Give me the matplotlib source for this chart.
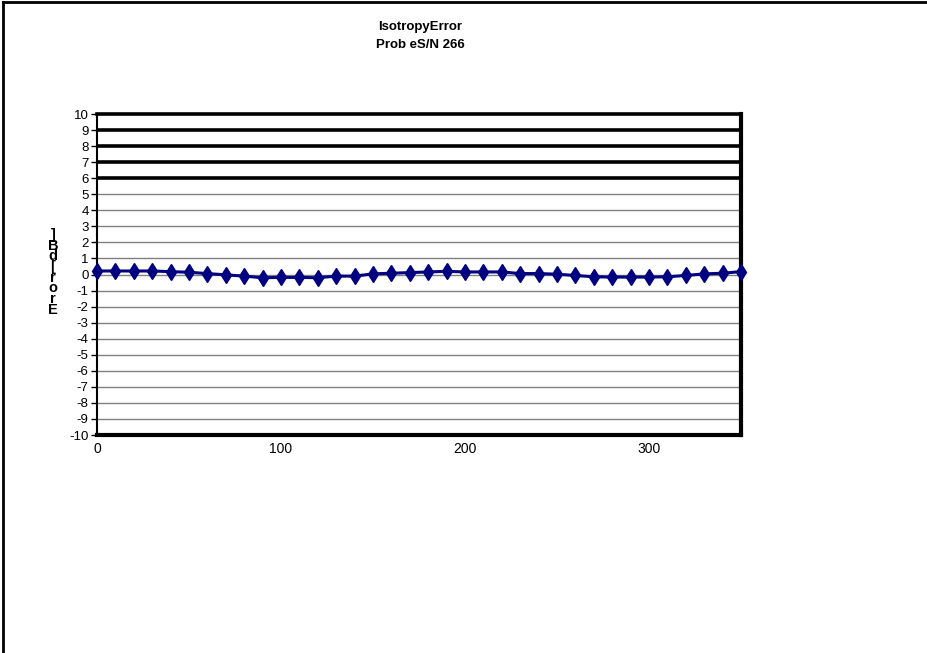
import matplotlib.pyplot as plt
from matplotlib.lines import Line2D
import numpy as np

plt.rcParams['font.family'] = ['Liberation Sans', 'DejaVu Sans']

# probe angle (deg) and isotropy error
angle = [0, 10, 20, 30, 40, 50, 60, 70, 80, 90, 100, 110, 120, 130, 140, 150, 160, 170,
         180, 190, 200, 210, 220, 230, 240, 250, 260, 270, 280, 290, 300, 310, 320, 330, 340, 350]
error = [0.22, 0.22, 0.22, 0.22, 0.18, 0.14, 0.06, -0.02, -0.1, -0.2, -0.18, -0.18, -0.2, -0.1, -0.1, 0.04, 0.08, 0.12,
         0.16, 0.2, 0.16, 0.16, 0.16, 0.06, 0.06, 0.02, -0.06, -0.14, -0.16, -0.16, -0.16, -0.14, -0.06, 0.04, 0.08, 0.18]

y_ticks = list(range(-10, 11))
x_ticks = [0, 100, 200, 300]
heavy_grid = [6, 7, 8, 9]

fig = plt.figure(figsize=(9.28, 6.53), dpi=100)
ax = fig.add_axes([0.1045, 0.3338, 0.694, 0.4916])

ax.set_xlim(0, 350)
ax.set_ylim(-10, 10)

# gridlines: light ones, plus heavy black ones on top
for yv in y_ticks:
    if yv in heavy_grid:
        ax.axhline(yv, color='black', lw=2.6, zorder=1)
    elif -10 < yv < 10:
        ax.axhline(yv, color='#808080', lw=1.0, zorder=1)

ax.plot(angle, error, color='#000080', lw=2.2, marker='d', markersize=8,
        markeredgecolor='#000080', clip_on=False, zorder=3)

ax.set_yticks(y_ticks)
ax.set_yticklabels([str(v) for v in y_ticks], fontsize=9.5)
ax.set_xticks(x_ticks)
ax.set_xticklabels([str(v) for v in x_ticks], fontsize=10)
ax.tick_params(axis='y', length=4, width=1, pad=2, direction='out')
ax.tick_params(axis='x', length=0, pad=5)

ax.spines['left'].set_linewidth(1.5)
ax.spines['top'].set_linewidth(2.6)
ax.spines['right'].set_linewidth(3)
ax.spines['bottom'].set_linewidth(3)

fig.text(0.4526, 0.958, 'IsotropyError', ha='center', va='center',
         fontsize=9.5, fontweight='bold')
fig.text(0.4526, 0.931, 'Prob eS/N 266', ha='center', va='center',
         fontsize=9.5, fontweight='bold')

# garbled stacked y label as in the reference
fig.text(0.057, 0.583, ']\nB\nd\n[\nr\no\nr\nE', ha='center', va='center',
         fontsize=10.5, fontweight='bold', linespacing=0.7)

# outer frame (top and left only)
fig.add_artist(Line2D([0.0035, 1.0], [0.9965, 0.9965], transform=fig.transFigure,
                      color='black', lw=2))
fig.add_artist(Line2D([0.0035, 0.0035], [0.0, 0.9965], transform=fig.transFigure,
                      color='black', lw=2))

fig.savefig('out.png', dpi=100)
